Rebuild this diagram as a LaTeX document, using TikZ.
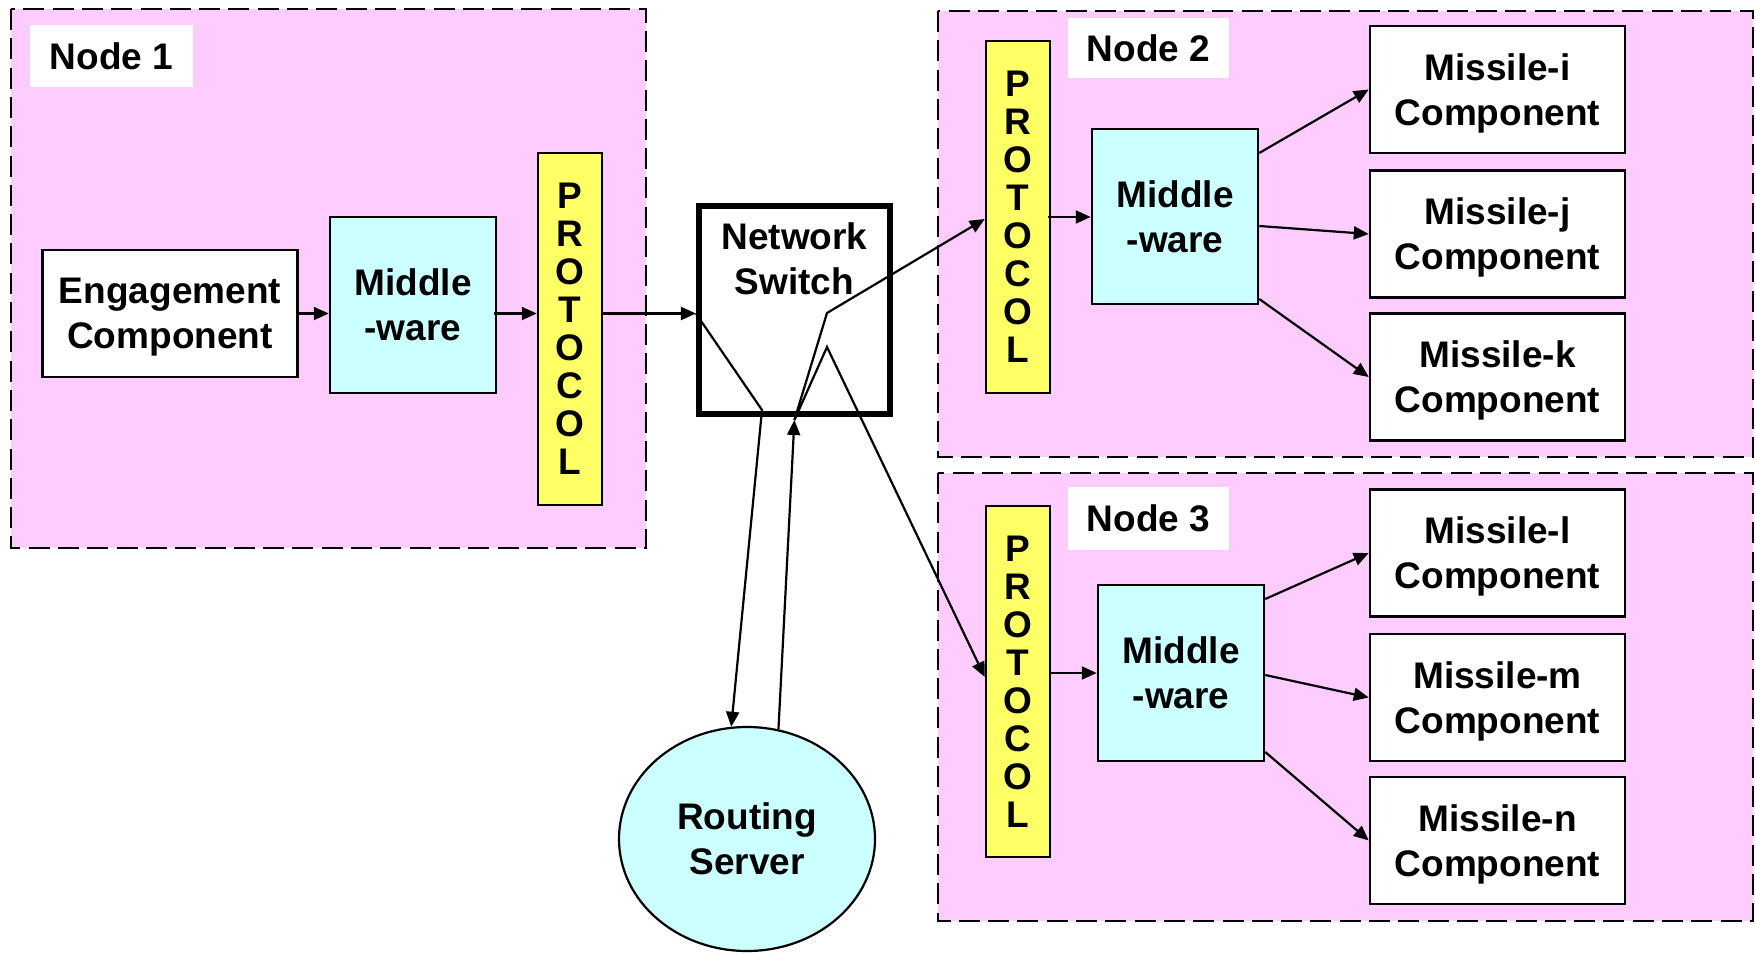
\documentclass[tikz,border=0pt]{standalone}
\usepackage{fontspec}
\setmainfont{Liberation Sans}
\usetikzlibrary{arrows.meta,shapes.geometric,calc}
\definecolor{nodepink}{RGB}{255,204,255}
\definecolor{mwcyan}{RGB}{204,255,255}
\definecolor{protoyellow}{RGB}{255,255,102}
\begin{document}
\begin{tikzpicture}[x=1pt,y=-1pt,
  txt/.style={font=\fontsize{37}{45}\selectfont\bfseries, align=center},
  region/.style={draw, fill=nodepink, line width=2.7pt, dash pattern=on 21pt off 8.3pt},
  tag/.style={fill=white, txt, inner sep=0pt},
  comp/.style={draw, fill=white, line width=2.5pt, txt, text depth=0pt, minimum width=255pt, minimum height=127pt, inner sep=0pt},
  mware/.style={draw, fill=mwcyan, line width=2.5pt, txt, minimum width=166pt, minimum height=176pt, inner sep=0pt},
  proto/.style={draw, fill=protoyellow, line width=2.5pt, font=\fontsize{37}{38}\selectfont\bfseries, align=center, minimum width=64pt, minimum height=352pt, inner sep=0pt},
  conn/.style={line width=2.2pt, -{Triangle[length=15pt,width=13pt]}},
  wire/.style={line width=2.2pt}
]
\useasboundingbox (0,0) rectangle (1755,953);

% regions
\draw[region] (11,9) rectangle (646,548);
\draw[region] (938,11) rectangle (1753,457);
\draw[region] (938,473) rectangle (1753,921);

% labels
\node[tag, minimum width=163pt, minimum height=62pt] (n1) at (111.5,56) {Node 1};
\node[tag, minimum width=161pt, minimum height=60pt] (n2) at (1148.5,48) {Node 2};
\node[tag, minimum width=161pt, minimum height=63pt] (n3) at (1148.5,518.5) {Node 3};

% node 1
\node[comp] (eng) at (170,313.5) {Engagement\\Component};
\node[mware] (mw1) at (413,305) {Middle\\-ware};
\node[proto] (p1) at (570,329) {P\\R\\O\\T\\O\\C\\O\\L};

% switch and server
\node[draw, line width=6pt, minimum width=191pt, minimum height=208pt, inner sep=0pt] (sw) at (794.4,310) {};
\node[txt, inner sep=0pt] (swt) at (794.4,258.5) {Network\\Switch};
\node[ellipse, draw, fill=mwcyan, line width=2.2pt, minimum width=256pt, minimum height=224pt, inner sep=0pt, txt, text depth=0pt] (rs) at (747,839) {Routing\\Server};

% node 2
\node[proto] (p2) at (1018,217) {P\\R\\O\\T\\O\\C\\O\\L};
\node[mware, minimum height=175pt] (mw2) at (1175,216.5) {Middle\\-ware};
\node[comp] (mi) at (1497.5,89.5) {Missile-i\\Component};
\node[comp] (mj) at (1497.5,234) {Missile-j\\Component};
\node[comp] (mk) at (1497.5,377) {Missile-k\\Component};

% node 3
\node[proto, minimum height=351pt] (p3) at (1018,681.5) {P\\R\\O\\T\\O\\C\\O\\L};
\node[mware] (mw3) at (1181,673) {Middle\\-ware};
\node[comp] (ml) at (1497.5,553) {Missile-l\\Component};
\node[comp] (mm) at (1497.5,697.5) {Missile-m\\Component};
\node[comp] (mn) at (1497.5,840.5) {Missile-n\\Component};

% connectors node 1
\draw[conn] (eng.east) -- (eng.east -| mw1.west);
\draw[conn] ($(eng.east -| mw1.east)+(-3,0)$) -- (eng.east -| p1.west);
\draw[conn] (eng.east -| p1.east) -- (eng.east -| sw.west);

% switch routing
\coordinate (k1) at (762,410);
\coordinate (k2) at (827,313);
\coordinate (k3) at (827,347);
\coordinate (swb) at ($(sw.south)+(0,3)$);
\draw[conn, line join=miter] (eng.east -| sw.west) -- (k1) -- (rs.98);
\draw[conn] (rs.74) -- (swb);
\draw[conn, line join=miter] (swb) -- (k2) -- ($(p2.west)+(0,2)$);
\draw[conn, line join=miter] (swb) -- (k3) -- ($(p3.west)+(0,-4.5)$);

% connectors node 2
\draw[conn] ($(p2.east)+(-3,0)$) -- (p2.east -| mw2.west);
\draw[conn] ($(mw2.east)+(0,-63.5)$) -- (mi.west);
\draw[conn] ($(mw2.east)+(0,9.5)$) -- (mj.west);
\draw[conn] ($(mw2.east)+(0,82.5)$) -- (mk.west);

% connectors node 3
\draw[conn] (p3.east |- mw3.west) -- (mw3.west);
\draw[conn] ($(mw3.east)+(0,-74)$) -- (ml.west);
\draw[conn] ($(mw3.east)+(0,2)$) -- (mm.west);
\draw[conn] ($(mw3.east)+(0,79)$) -- (mn.west);
\end{tikzpicture}
\end{document}
